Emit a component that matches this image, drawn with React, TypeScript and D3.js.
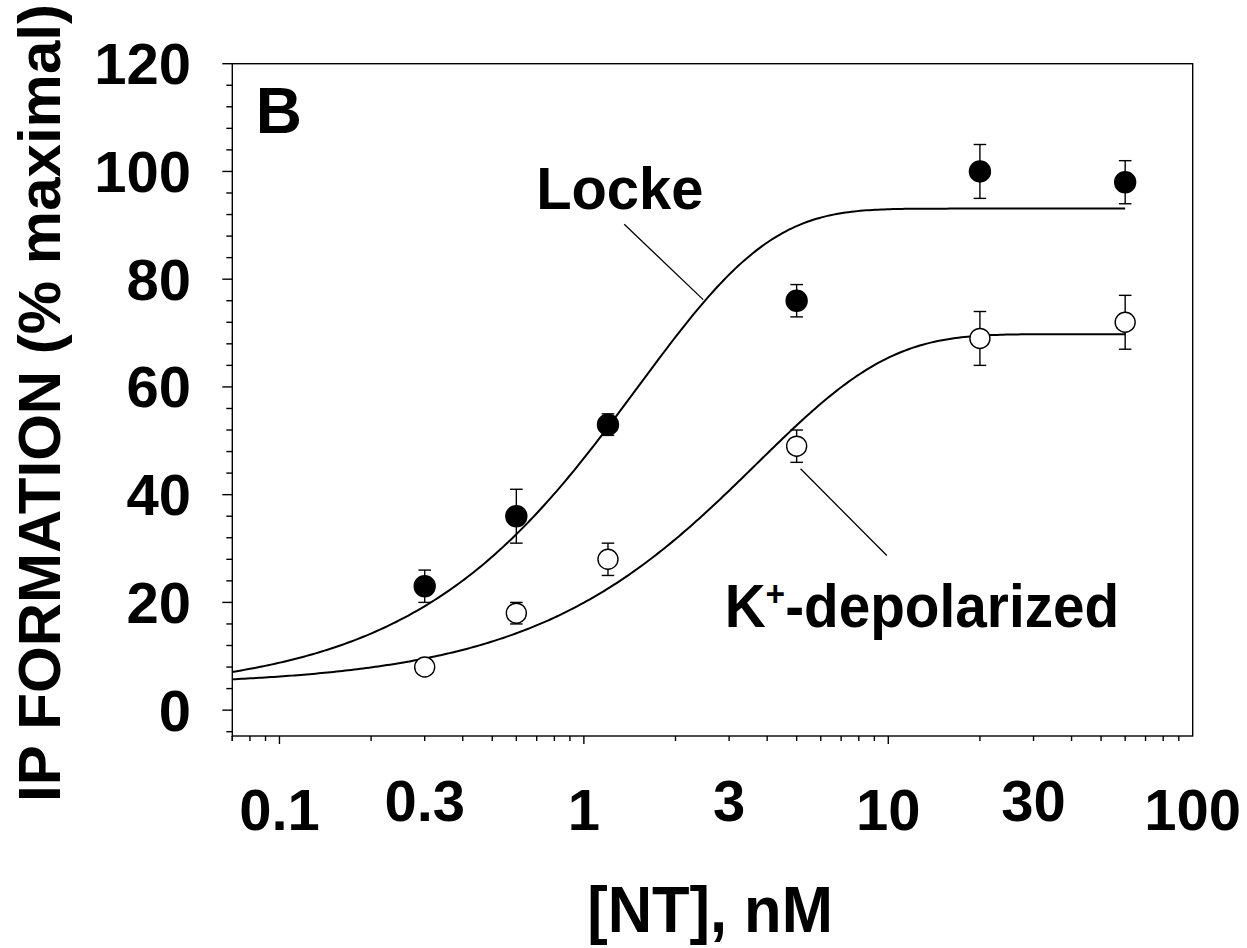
import React from "react";
import * as d3 from "d3";

// ---- data ----
const concentrations = [0.3, 0.6, 1.2, 5, 20, 60]; // [NT], nM
const lockeMean = [23, 36, 53, 76, 100, 98];
const lockeErr = [3, 5, 2, 3, 5, 4];
const depolMean = [8, 18, 28, 49, 69, 72];
const depolErr = [1, 2, 3, 3, 5, 5];

// fitted curves: y = bottom + (top - bottom) * (1 - exp(-k * x))
const lockeFit = [3, 93.1, 0.665];
const depolFit = [4.5, 69.8, 0.27];

const xTickLabels = ["0.1", "0.3", "1", "3", "10", "30", "100"];
const xTickValues = [0.1, 0.3, 1, 3, 10, 30, 100];
const yTickValues = [0, 20, 40, 60, 80, 100, 120];

const W = 1247;
const H = 948;
const FONT = "'Liberation Sans', Arial, Helvetica, sans-serif";

export default function App() {
  const x = d3.scaleLog().domain([0.07, 100]).range([232.3, 1192.7]);
  const y = d3.scaleLinear().domain([-4.8, 120]).range([736, 63.7]);

  const fitLine = (p: number[]) => {
    const [b, t, k] = p;
    const xs = d3.range(0, 301).map((i) => Math.pow(10, Math.log10(0.07) + (i / 300) * (Math.log10(60) - Math.log10(0.07))));
    return d3
      .line<number>()
      .x((v) => x(v))
      .y((v) => y(b + (t - b) * (1 - Math.exp(-k * v))))(xs) as string;
  };

  // minor ticks
  const xMinor: number[] = [];
  [0.01, 0.1, 1, 10].forEach((dec) => {
    for (let m = 2; m <= 9; m++) {
      const v = m * dec;
      if (v >= 0.07 && v < 100) xMinor.push(v);
    }
  });
  const yMinor = d3.range(-4, 120, 4).filter((v) => v % 20 !== 0);

  const sw = 1.4;
  const capW = 6.3;
  const r = 10.5;

  const errBars = (means: number[], errs: number[], key: string) =>
    concentrations.map((c, i) => {
      const cx = x(c);
      const y1 = y(means[i] + errs[i]);
      const y2 = y(means[i] - errs[i]);
      return (
        <g key={key + i} stroke="#000" strokeWidth={sw}>
          <line x1={cx} x2={cx} y1={y1} y2={y2} />
          <line x1={cx - capW} x2={cx + capW} y1={y1} y2={y1} />
          <line x1={cx - capW} x2={cx + capW} y1={y2} y2={y2} />
        </g>
      );
    });

  return (
    <svg
      width={W}
      height={H}
      style={{ position: "absolute", left: 0, top: 0, background: "#fff" }}
      fontFamily={FONT}
      fontWeight="bold"
    >
      <rect x={0} y={0} width={W} height={H} fill="#fff" />
      {/* frame */}
      <rect
        x={x(0.07)}
        y={y(120)}
        width={x(100) - x(0.07)}
        height={y(-4.8) - y(120)}
        fill="none"
        stroke="#000"
        strokeWidth={sw}
      />
      {/* y ticks */}
      {yTickValues.map((v) => (
        <g key={"yt" + v}>
          <line x1={x(0.07) - 10} x2={x(0.07)} y1={y(v)} y2={y(v)} stroke="#000" strokeWidth={sw} />
          <text x={191} y={y(v) + 20.5} textAnchor="end" fontSize={58}>
            {v}
          </text>
        </g>
      ))}
      {yMinor.map((v) => (
        <line key={"ym" + v} x1={x(0.07) - 6} x2={x(0.07)} y1={y(v)} y2={y(v)} stroke="#000" strokeWidth={sw} />
      ))}
      {/* x ticks */}
      {[0.1, 1, 10].map((v) => (
        <line key={"xt" + v} x1={x(v)} x2={x(v)} y1={y(-4.8)} y2={y(-4.8) + 8} stroke="#000" strokeWidth={sw} />
      ))}
      {[0.07, ...xMinor].map((v) => (
        <line key={"xm" + v} x1={x(v)} x2={x(v)} y1={y(-4.8)} y2={y(-4.8) + 5} stroke="#000" strokeWidth={sw} />
      ))}
      {xTickValues.map((v, i) => {
        const isDecade = Math.abs(Math.log10(v) - Math.round(Math.log10(v))) < 1e-9;
        return (
          <text key={"xl" + v} x={x(v)} y={isDecade ? 830 : 821} textAnchor="middle" fontSize={58}>
            {xTickLabels[i]}
          </text>
        );
      })}

      {/* axis titles */}
      <text transform="translate(710,932) scale(0.96,1)" textAnchor="middle" fontSize={64}>
        [NT], nM
      </text>
      <text transform="translate(60,403) rotate(-90)" textAnchor="middle" fontSize={60}>
        IP FORMATION (% maximal)
      </text>

      {/* fitted curves */}
      <path d={fitLine(lockeFit)} fill="none" stroke="#000" strokeWidth={2} />
      <path d={fitLine(depolFit)} fill="none" stroke="#000" strokeWidth={2} />

      {/* error bars */}
      {errBars(lockeMean, lockeErr, "le")}
      {errBars(depolMean, depolErr, "de")}

      {/* markers */}
      {concentrations.map((c, i) => (
        <circle key={"lp" + i} cx={x(c)} cy={y(lockeMean[i])} r={r} fill="#000" stroke="#000" strokeWidth={sw} />
      ))}
      {concentrations.map((c, i) => (
        <circle key={"dp" + i} cx={x(c)} cy={y(depolMean[i])} r={r - 0.5} fill="#fff" stroke="#000" strokeWidth={sw} />
      ))}

      {/* annotations */}
      <text x={x(0.0836)} y={y(107.2)} fontSize={64}>
        B
      </text>
      <text transform={`translate(${x(0.697)},${y(93)}) scale(0.965,1)`} fontSize={60}>
        Locke
      </text>
      <line x1={x(1.357)} y1={y(90.2)} x2={x(2.466)} y2={y(76.2)} stroke="#000" strokeWidth={1.3} />
      <text transform={`translate(${x(2.9)},${y(15.5)}) scale(0.93,1)`} fontSize={61}>
        K
        <tspan fontSize={36} dy={-21}>
          +
        </tspan>
        <tspan dy={21}>-depolarized</tspan>
      </text>
      <line x1={x(5.15)} y1={y(44.8)} x2={x(9.89)} y2={y(28.7)} stroke="#000" strokeWidth={1.3} />
    </svg>
  );
}
